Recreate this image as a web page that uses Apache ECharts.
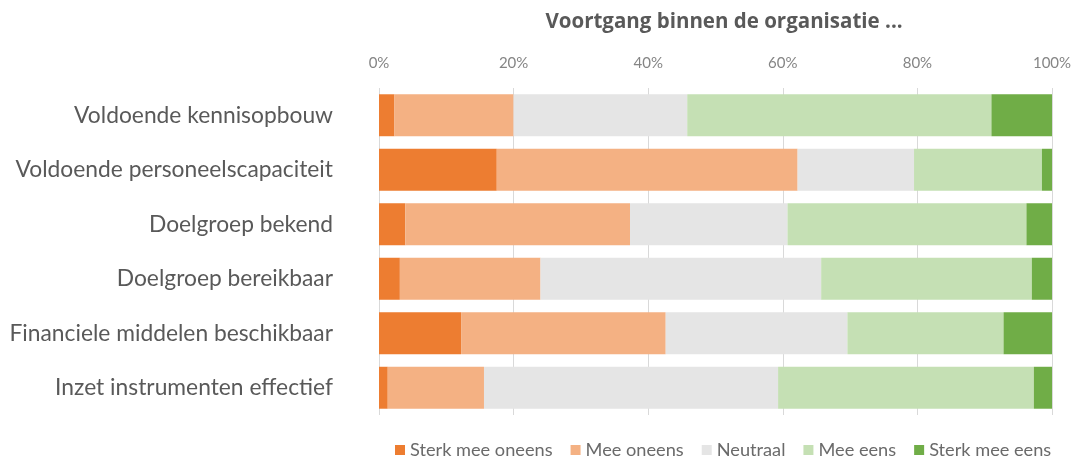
<!DOCTYPE html>
<html>
<head>
<meta charset="utf-8">
<script src="https://cdn.jsdelivr.net/npm/echarts@6/dist/echarts.min.js"></script>
<style>
html,body{margin:0;padding:0;background:#fff;}
#chart{width:1076px;height:469px;}
</style>
</head>
<body>
<div id="chart"></div>
<script>
const categories = [
  'Voldoende kennisopbouw',
  'Voldoende personeelscapaciteit',
  'Doelgroep bekend',
  'Doelgroep bereikbaar',
  'Financiele middelen beschikbaar',
  'Inzet instrumenten effectief'
];
const seriesNames = ['Sterk mee oneens', 'Mee oneens', 'Neutraal', 'Mee eens', 'Sterk mee eens'];
const sterkMeeOneens = [2.3, 17.5, 3.9, 3.1, 12.2, 1.3];
const meeOneens      = [17.7, 44.7, 33.4, 20.9, 30.4, 14.3];
const neutraal       = [25.8, 17.3, 23.4, 41.7, 27.0, 43.7];
const meeEens        = [45.2, 19.0, 35.5, 31.3, 23.2, 38.0];
const sterkMeeEens   = [9.0, 1.5, 3.8, 3.0, 7.2, 2.7];
const colors = ['#ED7D31', '#F4B183', '#E5E5E5', '#C5E0B4', '#70AD47'];

const seriesData = [sterkMeeOneens, meeOneens, neutraal, meeEens, sterkMeeEens];
const FONT = 'Lato';

const chart = echarts.init(document.getElementById('chart'), null, {renderer: 'canvas'});
chart.setOption({
  animation: false,
  title: {
    text: 'Voortgang binnen de organisatie ...',
    left: 719, textAlign: 'center', top: 7,
    textStyle: {fontFamily: 'Open Sans', fontSize: 20.5, fontWeight: 'bold', color: '#595959'}
  },
  legend: {
    bottom: 5, left: 390,
    itemWidth: 10, itemHeight: 10, itemGap: 18,
    icon: 'rect',
    textStyle: {fontFamily: FONT, fontSize: 18.2, color: '#6a6a6a'},
    data: seriesNames
  },
  grid: {left: 379, right: 24, top: 88, bottom: 54, containLabel: false},
  xAxis: {
    type: 'value', position: 'top', min: 0, max: 100, interval: 20,
    axisLine: {show: false}, axisTick: {show: false},
    axisLabel: {formatter: '{value}%', fontFamily: FONT, fontSize: 15, color: '#858585', margin: 17},
    splitLine: {show: true, lineStyle: {color: '#d9d9d9', width: 1}}
  },
  yAxis: {
    type: 'category', inverse: true, data: categories,
    axisLine: {show: false}, axisTick: {show: false},
    axisLabel: {fontFamily: FONT, fontSize: 22.8, color: '#595959', margin: 46}
  },
  series: seriesNames.map((name, i) => ({
    name: name, type: 'bar', stack: 'total',
    barCategoryGap: '23%',
    itemStyle: {color: colors[i]},
    data: seriesData[i]
  }))
});
</script>
</body>
</html>
